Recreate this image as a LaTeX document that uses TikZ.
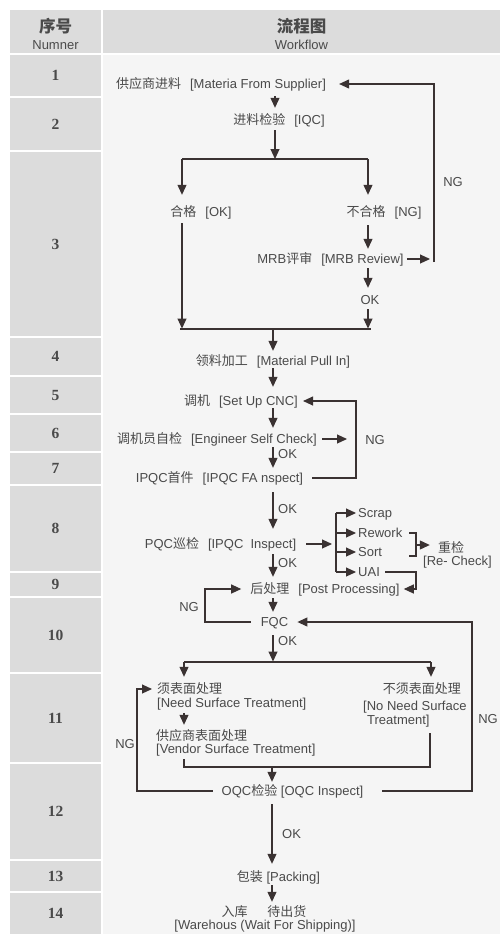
\documentclass[tikz,border=0pt]{standalone}
\usepackage{fontspec}
\setmainfont{Liberation Sans}
\newfontfamily\zhfont{Noto Sans CJK SC}
\newfontfamily\numfont{Liberation Serif}
\usetikzlibrary{arrows.meta,calc}
\newcommand\zh[1]{{\zhfont #1}}
\newcommand\gp{\hspace{9pt}}
\definecolor{tc}{HTML}{4A4A4A}
\definecolor{lc}{HTML}{3A3232}
\definecolor{cellc}{HTML}{DCDCDC}
\definecolor{panel}{HTML}{F5F5F5}
\begin{document}
\begin{tikzpicture}[x=1pt,y=-1pt,
  txt/.style={inner xsep=1pt, inner ysep=0pt, text height=11pt, text depth=2pt, font=\fontsize{13}{14}\selectfont, text=tc},
  numf/.style={inner sep=0pt, font=\numfont\bfseries\fontsize{15.5}{16}\selectfont, text=tc},
  hd/.style={inner sep=0pt, font=\fontsize{13}{14}\selectfont, text=tc},
  hdz/.style={inner sep=0pt, font=\bfseries\fontsize{16.5}{18}\selectfont, text=tc},
  arr/.style={draw=lc, line width=1.1pt, -{Triangle[length=10pt,width=9pt]}},
  ln/.style={draw=lc, line width=1.1pt}]
\useasboundingbox (0,0) rectangle (500,945);
\fill[white] (0,0) rectangle (500,945);
% header
\fill[cellc] (10,10) rectangle (101,53);
\fill[cellc] (103,10) rectangle (500,53);
\node[hdz] (h1) at (55.5,26) {\zh{序号}};
\node[hd] (h2) at (55.5,45) {Numner};
\node[hdz] (h3) at (301.5,26) {\zh{流程图}};
\node[hd] (h4) at (301.5,45) {Workflow};
% panel
\fill[panel] (103,55) rectangle (500,934);
\foreach \i/\a/\b in {1/55/96, 2/98/150, 3/152/336, 4/338/375, 5/377/413, 6/415/451, 7/453/484, 8/486/571, 9/573/596, 10/598/672, 11/674/762, 12/764/859, 13/861/891, 14/893/934}{
  \fill[cellc] (10,\a) rectangle (101,\b);
  \node[numf] (n\i) at (55.5,{(\a+\b)/2}) {\i};
}
% texts
\node[txt] (sup) at (221,84) {\zh{供应商进料}\gp[Materia From Supplier]};
\node[txt] (iqc) at (279,120) {\zh{进料检验}\gp[IQC]};
\node[txt] (ok1) at (201,212) {\zh{合格}\gp[OK]};
\node[txt] (ng1) at (384,212) {\zh{不合格}\gp[NG]};
\node[txt] (mrb) at (330.5,259) {MRB\zh{评审}\gp[MRB Review]};
\node[txt] (okm) at (370,300) {OK};
\node[txt] (ngA) at (453,182) {NG};
\node[txt] (mat) at (273,361) {\zh{领料加工}\gp[Material Pull In]};
\node[txt] (cnc) at (241,401) {\zh{调机}\gp[Set Up CNC]};
\node[txt] (eng) at (217,439) {\zh{调机员自检}\gp[Engineer Self Check]};
\node[txt] (ngB) at (375,440) {NG};
\node[txt,anchor=west] (okB) at (277,454) {OK};
\node[txt] (fa) at (219.5,478) {IPQC\zh{首件}\gp[IPQC FA nspect]};
\node[txt,anchor=west] (okC) at (277,509) {OK};
\node[txt] (ipqc) at (220.5,544) {PQC\zh{巡检}\gp[IPQC\ \ Inspect]};
\node[txt,anchor=west] (scrap) at (357,513) {Scrap};
\node[txt,anchor=west] (rework) at (357,533) {Rework};
\node[txt,anchor=west] (sort) at (357,552) {Sort};
\node[txt,anchor=west] (uai) at (357,572) {UAI};
\node[txt] (rc1) at (451,548) {\zh{重检}};
\node[txt] (rc2) at (457.5,561) {[Re- Check]};
\node[txt,anchor=west] (okD) at (277,563) {OK};
\node[txt] (post) at (325,589) {\zh{后处理}\gp[Post Processing]};
\node[txt] (ngC) at (189,607) {NG};
\node[txt] (fqc) at (274.5,622) {FQC};
\node[txt,anchor=west] (okE) at (277,641) {OK};
\node[txt,anchor=west] (need1) at (156,689) {\zh{须表面处理}};
\node[txt,anchor=west] (need2) at (156,703) {[Need Surface Treatment]};
\node[txt,anchor=west] (ven1) at (155,736) {\zh{供应商表面处理}};
\node[txt,anchor=west] (ven2) at (155,749) {[Vendor Surface Treatment]};
\node[txt,anchor=east] (nn1) at (462,689) {\zh{不须表面处理}};
\node[txt,anchor=west] (nn2) at (362,706) {[No Need Surface};
\node[txt,anchor=west] (nn3) at (366,720) {Treatment]};
\node[txt] (ngD) at (488,719) {NG};
\node[txt] (ngE) at (125,744) {NG};
\node[txt] (oqc) at (292.5,791) {OQC\zh{检验} [OQC Inspect]};
\node[txt,anchor=west] (okF) at (281,834) {OK};
\node[txt] (pack) at (278.5,877) {\zh{包装} [Packing]};
\node[txt] (wh1) at (264,912) {\zh{入库\hspace{20pt}待出货}};
\node[txt] (wh2) at (265,925) {[Warehous (Wait For Shipping)]};
% coordinates
\coordinate (m1) at (275,0);
\coordinate (m2) at (273,0);
\coordinate (m3) at (272,0);
\coordinate (sL) at (182,159);
\coordinate (sR) at (368,159);
\coordinate (gL) at (180,329);
\coordinate (gR) at (371,329);
\coordinate (lp1) at (434,262);
\coordinate (lp2) at (356,478);
\coordinate (brT) at (336,513);
\coordinate (brB) at (336,572);
\coordinate (rb1) at (409,533);
\coordinate (rb2) at (416,533);
\coordinate (rb3) at (416,556);
\coordinate (rb4) at (409,556);
\coordinate (rbm) at (416,545);
\coordinate (ua) at (416,573);
\coordinate (lp3) at (205,620);
\coordinate (lp4) at (472,791);
\coordinate (tL) at (184,662);
\coordinate (tR) at (431,662);
\coordinate (bL) at (184,767);
\coordinate (bR) at (430,767);
\coordinate (lp5) at (137,791);
% connectors
\draw[arr,shorten <=5.5pt,shorten >=5.5pt] (sup.south -| m1) -- (iqc.north -| m1);
\draw[arr,shorten <=3.5pt] (iqc.south -| m1) -- (m1 |- sL);
\draw[ln] (sL) -- (sR);
\draw[arr,shorten >=10.5pt] (sL) -- (ok1.north -| sL);
\draw[arr,shorten >=10.5pt] (sR) -- (ng1.north -| sR);
\draw[arr,shorten <=6.5pt,shorten >=3.5pt] (ng1.south -| sR) -- (mrb.north -| sR);
\draw[arr,shorten <=2pt,shorten >=4pt] (mrb.east) -- (mrb.east -| lp1);
\draw[arr,shorten >=12pt] (lp1) |- (sup.east);
\draw[arr,shorten <=2.5pt,shorten >=5.5pt] (mrb.south -| sR) -- (okm.north -| sR);
\draw[arr,shorten <=2.5pt,shorten >=0.5pt] (okm.south -| sR) -- (sR |- gR);
\draw[arr,shorten <=4.5pt,shorten >=0.5pt] (ok1.south -| sL) -- (sL |- gL);
\draw[ln] (gL) -- (gR);
\draw[arr,shorten >=3.5pt] (m2 |- gL) -- (mat.north -| m2);
\draw[arr,shorten <=0.5pt,shorten >=7.5pt] (mat.south -| m2) -- (cnc.north -| m2);
\draw[arr,shorten <=0.5pt,shorten >=4.5pt] (cnc.south -| m2) -- (eng.north -| m2);
\draw[arr,shorten <=4pt,shorten >=9pt] (eng.east) -- (eng.east -| lp2);
\draw[arr,shorten <=8pt,shorten >=4pt] (fa.east) -- (lp2) |- (cnc.east);
\draw[arr,shorten <=1.5pt,shorten >=3.5pt] (eng.south -| m2) -- (fa.north -| m2);
\draw[arr,shorten <=7.5pt,shorten >=8.5pt] (fa.south -| m2) -- (ipqc.north -| m2);
\draw[arr,shorten <=9pt,shorten >=4pt] (ipqc.east) -- (ipqc.east -| brT);
\draw[ln] (brT) -- (brB);
\draw[arr,shorten >=1pt] (brT) -- (scrap.west);
\draw[arr,shorten >=1pt] (rework.west -| brT) -- (rework.west);
\draw[arr,shorten >=1pt] (sort.west -| brT) -- (sort.west);
\draw[arr,shorten >=1pt] (uai.west -| brT) -- (uai.west);
\draw[ln] (rb1) -- (rb2) -- (rb3) -- (rb4);
\draw[arr,shorten >=7pt] (rbm) -- (rbm -| rc1.west);
\draw[arr,shorten <=4pt,shorten >=3pt] (uai.east) -- (uai.east -| ua) |- (post.east);
\draw[arr,shorten <=3.5pt,shorten >=5.5pt] (ipqc.south -| m2) -- (post.north -| m2);
\draw[arr,shorten <=9pt,shorten >=8pt] (fqc.west) -- (fqc.west -| lp3) |- (post.west);
\draw[arr,shorten <=2.5pt,shorten >=3.5pt] (post.south -| m2) -- (fqc.north -| m2);
\draw[arr,shorten <=18pt,shorten >=8pt] (oqc.east) -- (lp4) |- (fqc.east);
\draw[arr,shorten <=6.5pt,shorten >=0.5pt] (fqc.south -| m2) -- (m2 |- tL);
\draw[ln] (tL) -- (tR);
\draw[arr,shorten >=5.5pt] (tL) -- (need1.north -| tL);
\draw[arr,shorten >=5.5pt] (tR) -- (nn1.north -| tR);
\draw[arr,shorten <=3.5pt,shorten >=4.5pt] (need2.south -| tL) -- (ven1.north -| tL);
\draw[ln,shorten <=3.5pt,shorten >=6.5pt] (ven2.south -| bL) -- (bL) -- (bR) -- (nn3.south -| bR);
\draw[arr,shorten >=2.5pt] (m3 |- bL) -- (oqc.north -| m3);
\draw[arr,shorten <=8pt,shorten >=4pt] (oqc.west) -- (lp5) |- (need1.west);
\draw[arr,shorten <=6.5pt,shorten >=6.5pt] (oqc.south -| m3) -- (pack.north -| m3);
\draw[arr,shorten <=1.5pt,shorten >=3.5pt] (pack.south -| m3) -- (wh1.north -| m3);
\end{tikzpicture}
\end{document}
